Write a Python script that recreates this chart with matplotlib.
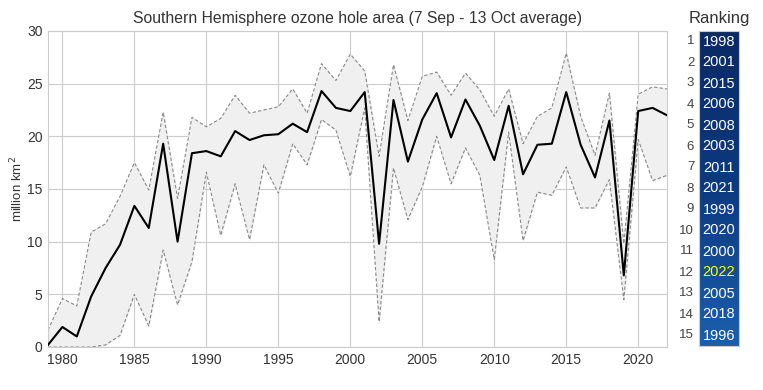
import numpy as np
import matplotlib.pyplot as plt
from matplotlib.colors import LinearSegmentedColormap

plt.rcParams['font.family'] = ['Liberation Sans', 'DejaVu Sans']

years = list(range(1979, 2023))
mean_area = [0.2, 1.9, 1.0, 4.8, 7.5, 9.7, 13.4, 11.3, 19.3, 10.0,
             18.4, 18.6, 18.1, 20.5, 19.65, 20.1, 20.2, 21.2, 20.4, 24.3,
             22.7, 22.4, 24.2, 9.8, 23.45, 17.6, 21.6, 24.1, 19.9, 23.5,
             21.0, 17.75, 22.9, 16.4, 19.2, 19.3, 24.2, 19.2, 16.1, 21.5,
             6.8, 22.4, 22.7, 22.0]
max_area = [1.6, 4.6, 3.9, 10.9, 11.7, 14.3, 17.5, 14.9, 22.3, 14.1,
            21.8, 20.9, 21.7, 23.9, 22.2, 22.5, 22.8, 24.5, 22.2, 26.9,
            25.3, 27.8, 26.2, 18.1, 26.8, 21.5, 25.7, 26.1, 23.9, 26.0,
            24.4, 21.9, 24.5, 19.3, 21.9, 22.7, 27.9, 21.9, 18.2, 24.1,
            9.8, 24.0, 24.7, 24.5]
min_area = [0.0, 0.0, 0.0, 0.0, 0.2, 1.1, 5.0, 2.0, 9.2, 4.0,
            8.1, 16.6, 10.6, 15.5, 10.2, 17.3, 14.6, 19.3, 17.3, 21.6,
            20.6, 16.2, 22.7, 2.4, 17.0, 12.1, 15.2, 20.0, 15.5, 18.9,
            16.3, 8.3, 20.4, 10.1, 14.7, 14.4, 17.1, 13.2, 13.2, 15.9,
            4.5, 19.7, 15.8, 16.3]

ranking = [1998, 2001, 2015, 2006, 2008, 2003, 2011, 2021, 1999, 2020,
           2000, 2022, 2005, 2018, 1996]
highlight = 2022

fig = plt.figure(figsize=(7.63, 3.9), dpi=100)
ax = fig.add_axes([48 / 763, 43 / 390, 619 / 763, 316 / 390])

ax.fill_between(years, min_area, max_area, color='#f0f0f0', zorder=1)
ax.plot(years, max_area, color='#888888', lw=0.8, ls='--', dashes=(3, 2), zorder=2)
ax.plot(years, min_area, color='#888888', lw=0.8, ls='--', dashes=(3, 2), zorder=2)
ax.plot(years, mean_area, color='black', lw=1.5, zorder=3)

ax.set_xlim(1979, 2022)
ax.set_ylim(0, 30)
ax.set_xticks(range(1980, 2021, 5))
ax.set_yticks(range(0, 31, 5))
ax.grid(True, color='#cccccc', lw=0.8, zorder=0)
ax.set_axisbelow(True)
for s in ax.spines.values():
    s.set_color('#cccccc')
ax.tick_params(length=0, labelsize=10, labelcolor='#333333', pad=4)
ax.set_ylabel('million km$^2$', fontsize=9.5, color='#333333', labelpad=1)
ax.set_title('Southern Hemisphere ozone hole area (7 Sep - 13 Oct average)',
             fontsize=11.3, color='#333333', pad=6)

# ranking panel
pax = fig.add_axes([699 / 763, 44 / 390, 40 / 763, 315 / 390])
cmap = LinearSegmentedColormap.from_list('rank', ['#0a2a66', '#0d3a80', '#1b5fac'])
grad = np.linspace(0, 1, 256).reshape(-1, 1)
pax.imshow(grad, cmap=cmap, aspect='auto',
           extent=[0, 1, len(ranking), 0])
pax.set_xlim(0, 1)
pax.set_ylim(len(ranking), 0)
pax.set_xticks([])
pax.set_yticks([])
for s in pax.spines.values():
    s.set_color('#cccccc')
for i, yr in enumerate(ranking):
    c = '#ffff00' if yr == highlight else 'white'
    pax.text(0.5, i + 0.5, str(yr), color=c, fontsize=10.5,
             ha='center', va='center')
    pax.text(-0.12, i + 0.5, str(i + 1), color='#444444', fontsize=9.5,
             ha='right', va='center')
pax.set_title('Ranking', fontsize=12, color='#333333', pad=6)

fig.savefig('out.png', dpi=100)
